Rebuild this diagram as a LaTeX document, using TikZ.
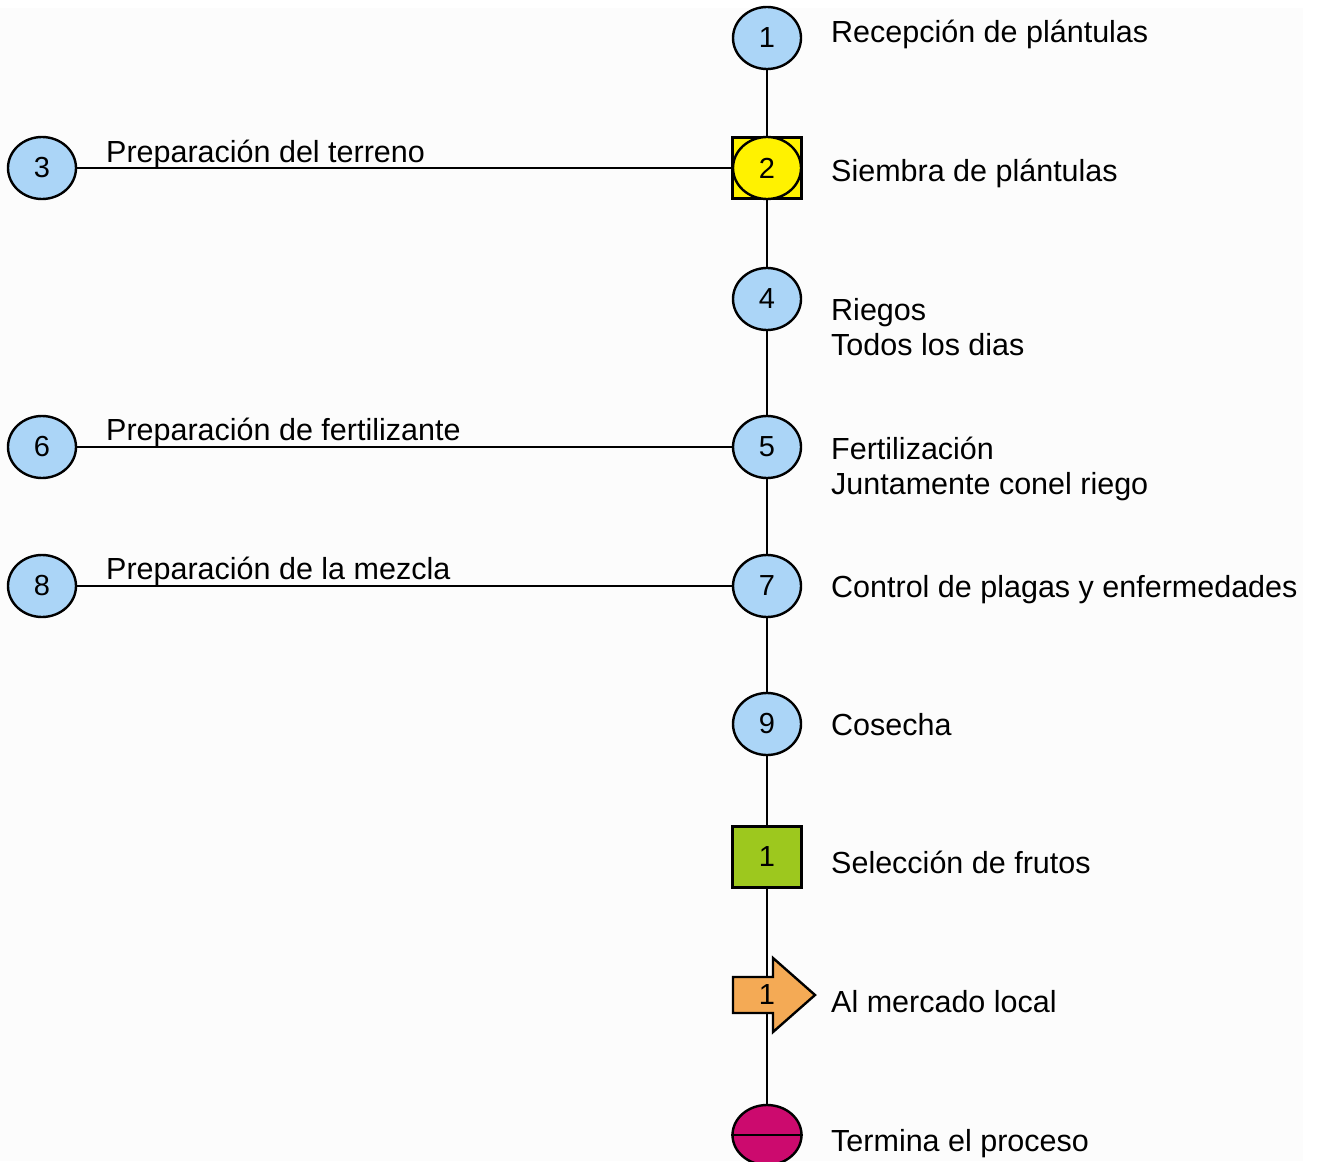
\documentclass[tikz,border=0pt]{standalone}
\usepackage{fontspec}
\setmainfont{Liberation Sans}
\usetikzlibrary{shapes.geometric,backgrounds}
\definecolor{opblue}{HTML}{ABD5F7}
\definecolor{opyellow}{HTML}{FFF200}
\definecolor{opgreen}{HTML}{9DC81E}
\definecolor{oporange}{HTML}{F4AA55}
\definecolor{opmag}{HTML}{CC0A6E}
\definecolor{bg}{HTML}{FCFCFC}
\begin{document}
\begin{tikzpicture}[x=1pt,y=-1pt,
  op/.style={ellipse,draw=black,line width=2.4pt,fill=opblue,minimum width=68pt,minimum height=62pt,inner sep=0pt,font=\fontsize{29}{30}\selectfont},
  sq/.style={rectangle,draw=black,line width=2.4pt,minimum width=69pt,minimum height=61pt,inner sep=0pt,font=\fontsize{29}{30}\selectfont},
  lab/.style={anchor=base west,inner sep=0pt,font=\fontsize{30.5}{35}\selectfont,align=left},
  conn/.style={draw=black,line width=2.6pt}]
\useasboundingbox (0,0) rectangle (1321,1161);
% nodes
\node[op] (n1) at (767,38) {1};
\node[sq,fill=opyellow] (n2box) at (767,168) {};
\node[op,fill=opyellow] (n2) at (767,168) {2};
\node[op] (n3) at (42,168) {3};
\node[op] (n4) at (767,299) {4};
\node[op] (n5) at (767,447) {5};
\node[op] (n6) at (42,447) {6};
\node[op] (n7) at (767,586) {7};
\node[op] (n8) at (42,586) {8};
\node[op] (n9) at (767,724) {9};
\node[sq,fill=opgreen] (sel) at (767,857) {1};
\draw[draw=black,line width=2.4pt,fill=oporange,line join=miter]
  (733,977) -- (773,977) -- (773,958) -- (815,995) -- (773,1032) -- (773,1013) -- (733,1013) -- cycle;
\node[inner sep=0pt,font=\fontsize{29}{30}\selectfont] (arr) at (767,995) {1};
\node[ellipse,draw=black,line width=2.4pt,fill=opmag,minimum width=69pt,minimum height=60pt,inner sep=0pt] (term) at (767,1135) {};
\draw[conn] (term.west) -- (term.east);
% connectors behind
\begin{scope}[on background layer]
\fill[white] (0,0) rectangle (1321,1161);
\fill[bg] (0,8) rectangle (1303,1161);
\draw[conn] (n1) -- (n2) -- (n4) -- (n5) -- (n7) -- (n9) -- (sel) -- (arr) -- (term);
\draw[conn] (n3) -- (n2);
\draw[conn] (n6) -- (n5);
\draw[conn] (n8) -- (n7);
\end{scope}
% labels
\node[lab] (t1) at (831,43) {Recepción de plántulas};
\node[lab] (t2) at (831,182) {Siembra de plántulas};
\node[lab] (t3) at (106,163) {Preparación del terreno};
\node[lab] (t4) at (831,355) {Riegos\\Todos los dias};
\node[lab] (t5) at (831,494) {Fertilización\\Juntamente conel riego};
\node[lab] (t6) at (106,440) {Preparación de fertilizante};
\node[lab] (t7) at (831,597) {Control de plagas y enfermedades};
\node[lab] (t8) at (106,579) {Preparación de la mezcla};
\node[lab] (t9) at (831,735) {Cosecha};
\node[lab] (t10) at (831,873) {Selección de frutos};
\node[lab] (t11) at (831,1012) {Al mercado local};
\node[lab] (t12) at (831,1151) {Termina el proceso};
\end{tikzpicture}
\end{document}
